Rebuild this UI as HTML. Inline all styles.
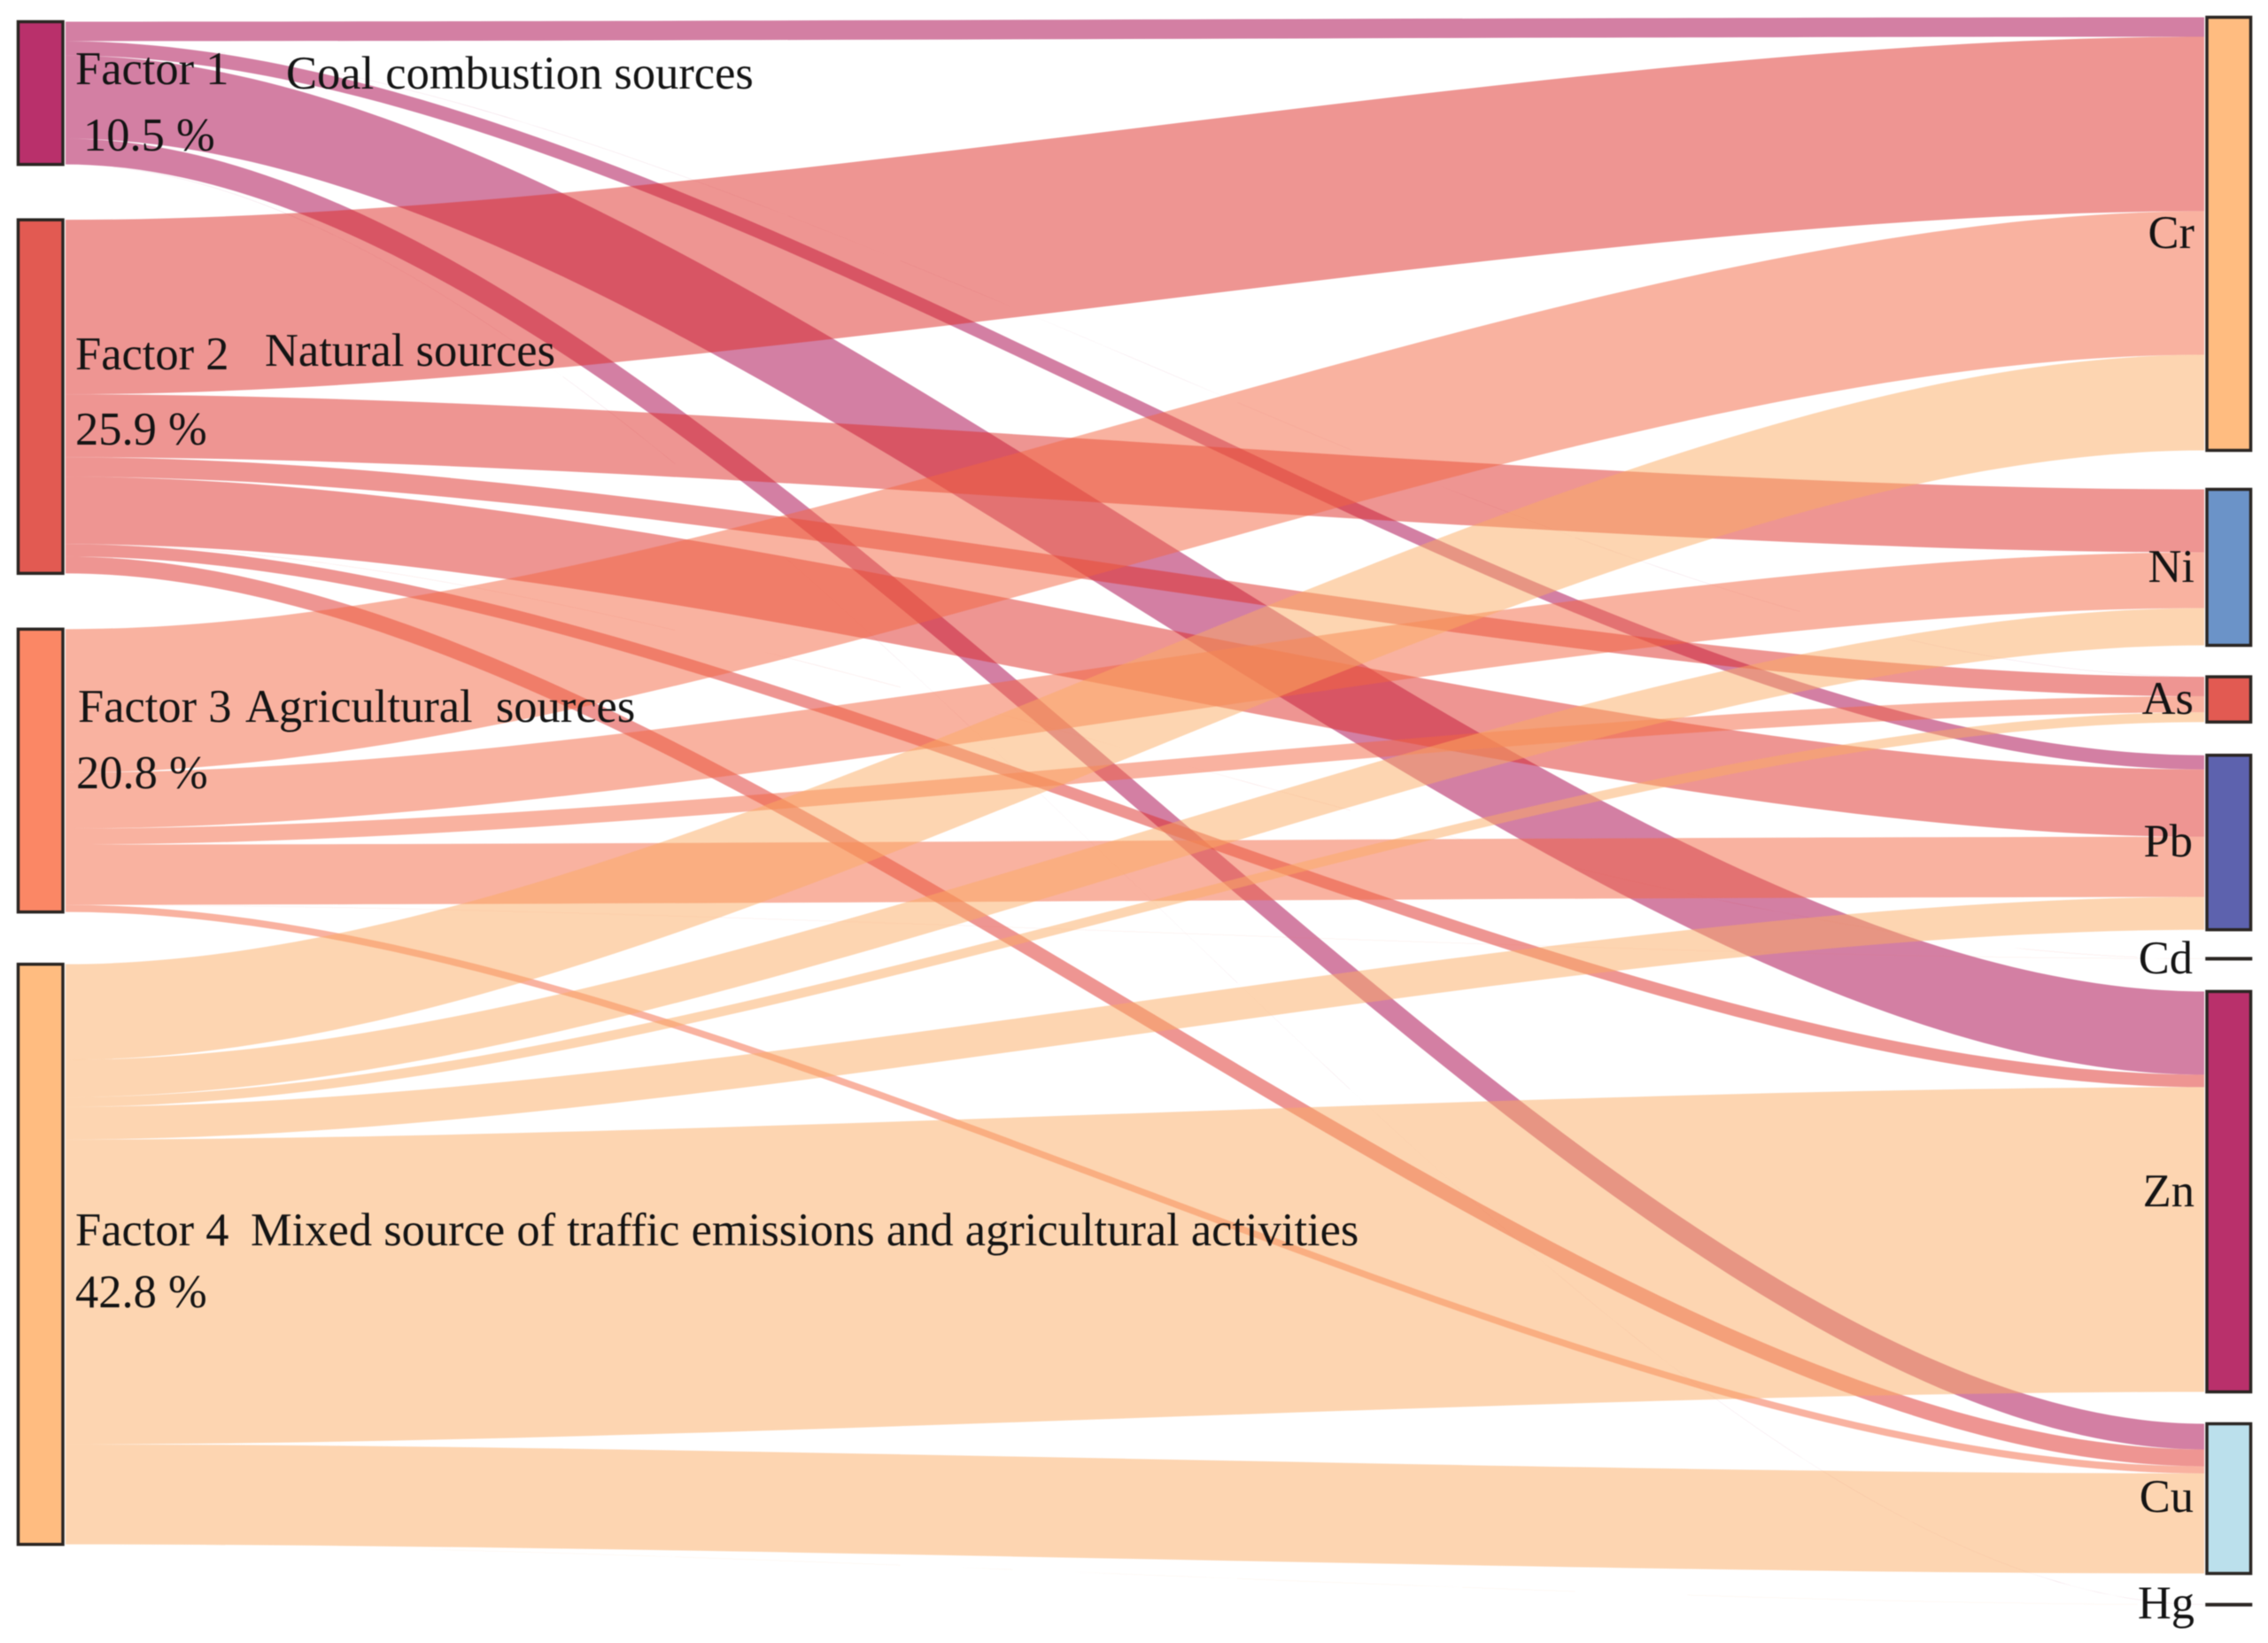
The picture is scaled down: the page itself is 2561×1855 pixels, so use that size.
<!DOCTYPE html>
<html lang="en">
<head>
<meta charset="utf-8">
<title>Source contribution Sankey diagram</title>
<style>
  html, body { margin: 0; padding: 0; background: #ffffff; }
  #chart { display: block; width: 2561px; height: 1855px; filter: blur(0.6px); }
  text { font-family: "Liberation Serif", serif; font-size: 52.5px; fill: #141414; }
</style>
</head>
<body>
<svg id="chart" xmlns="http://www.w3.org/2000/svg" width="2561" height="1855" viewBox="0 0 2561 1855">
  <g id="links"></g>
  <g id="nodes"></g>
  <g id="labels">
    <text x="85" y="95">Factor 1</text>
    <text x="323" y="100">Coal combustion sources</text>
    <text x="94" y="170">10.5 %</text>
    <text x="85" y="417">Factor 2</text>
    <text x="299" y="413">Natural sources</text>
    <text x="85" y="502">25.9 %</text>
    <text x="88" y="815">Factor 3</text>
    <text x="277" y="815" xml:space="preserve" style="white-space:pre">Agricultural  sources</text>
    <text x="86" y="890">20.8 %</text>
    <text x="85" y="1406">Factor 4</text>
    <text x="283" y="1406">Mixed source of traffic emissions and agricultural activities</text>
    <text x="85" y="1476">42.8 %</text>
    <text x="2478" y="280" text-anchor="end">Cr</text>
    <text x="2478" y="657" text-anchor="end">Ni</text>
    <text x="2477" y="806" text-anchor="end">As</text>
    <text x="2476" y="967" text-anchor="end">Pb</text>
    <text x="2476" y="1099" text-anchor="end">Cd</text>
    <text x="2478" y="1362" text-anchor="end">Zn</text>
    <text x="2477" y="1707" text-anchor="end">Cu</text>
    <text x="2478" y="1827" text-anchor="end">Hg</text>
  </g>
</svg>
<script>
// Chart data: contribution (%) of each factor to each metal
const factors = ['Factor 1', 'Factor 2', 'Factor 3', 'Factor 4'];
const metals = ['Cr', 'Ni', 'As', 'Pb', 'Cd', 'Zn', 'Cu', 'Hg'];
const factor1Values = [1.42, 0, 0.006, 1.04, 0, 6.08, 1.88, 0.006];
const factor2Values = [12.75, 4.60, 1.42, 4.92, 0.006, 0.91, 1.23, 0];
const factor3Values = [10.49, 4.08, 1.17, 4.40, 0.008, 0, 0.52, 0];
const factor4Values = [6.99, 2.72, 0.71, 2.39, 0, 22.27, 7.31, 0.006];

// Layout and style
const SVG_NS = 'http://www.w3.org/2000/svg';
const pxPerUnit = 15.45;
const curvature = 0.3;
const leftStart = 24.5;
const rightStart = 19.5;
const leftGaps = [0, 62.5, 63, 59];
const rightGaps = [0, 44, 35.5, 37.5, 32.5, 37, 36, 35];
const leftX = 20.5, leftW = 50.5, rightX = 2492, rightW = 49.5, linkStartX = 74, linkEndX = 2489;
const factorFill = ['#b9306b', '#e25a52', '#fb8765', '#ffbc80'];
const metalFill = ['#ffbc80', '#6b93c8', '#e25a52', '#5d62ae', '#111111', '#b9306b', '#bbe0ec', '#111111'];
const linkFill = ['#a70047', '#dd2b25', '#f36541', '#fbab63'];
const matrix = [factor1Values, factor2Values, factor3Values, factor4Values];

function scaleValue(v) { return v * pxPerUnit; }

function sum(list) { return list.reduce(function (a, b) { return a + b; }, 0); }

function metalColumn(j) { return matrix.map(function (row) { return row[j]; }); }

function makeNode(x, y, w, h, fill) {
  const r = document.createElementNS(SVG_NS, 'rect');
  r.setAttribute('x', x);
  r.setAttribute('y', y);
  r.setAttribute('width', w);
  r.setAttribute('height', Math.max(h, 0.5));
  r.setAttribute('fill', fill);
  r.setAttribute('stroke', '#2a2522');
  r.setAttribute('stroke-width', '3.5');
  return r;
}

const linksGroup = document.getElementById('links');
const nodesGroup = document.getElementById('nodes');

// Left node tops and link cursors
const leftCursor = [];
let yLeft = leftStart;
factors.forEach(function (f, i) {
  yLeft += leftGaps[i];
  const h = scaleValue(sum(matrix[i]));
  const node = makeNode(leftX, yLeft, leftW, h, factorFill[i]);
  
  
  nodesGroup.appendChild(node);
  leftCursor.push(yLeft);
  yLeft += h;
});

// Right node tops and link cursors
const rightCursor = [];
let yRight = rightStart;
metals.forEach(function (m, j) {
  yRight += rightGaps[j];
  const h = scaleValue(sum(metalColumn(j)));
  const isLine = m === 'Cd' || m === 'Hg';
  const node = makeNode(rightX, yRight, rightW, isLine ? 0 : h, metalFill[j]);
  
  
  nodesGroup.appendChild(node);
  rightCursor.push(yRight);
  yRight += h;
});

// Links: walk in metal order for each factor so bands stack within a node
factors.forEach(function (f, i) {
  metals.forEach(function (m, j) {
    const w = scaleValue(matrix[i][j]);
    if (w <= 0) { return; }
    const y0 = leftCursor[i];
    const y1 = rightCursor[j];
    leftCursor[i] += w;
    rightCursor[j] += w;
    const span = linkEndX - linkStartX;
    const c0 = linkStartX + curvature * span;
    const c1 = linkEndX - curvature * span;
    const d = 'M' + linkStartX + ',' + y0 +
      ' C' + c0 + ',' + y0 + ' ' + c1 + ',' + y1 + ' ' + linkEndX + ',' + y1 +
      ' L' + linkEndX + ',' + (y1 + w) +
      ' C' + c1 + ',' + (y1 + w) + ' ' + c0 + ',' + (y0 + w) + ' ' + linkStartX + ',' + (y0 + w) + ' Z';
    const p = document.createElementNS(SVG_NS, 'path');
    p.setAttribute('d', d);
    p.setAttribute('fill', linkFill[i]);
    p.setAttribute('fill-opacity', '0.5');
    
    
    linksGroup.appendChild(p);
  });
});
</script>
</body>
</html>
